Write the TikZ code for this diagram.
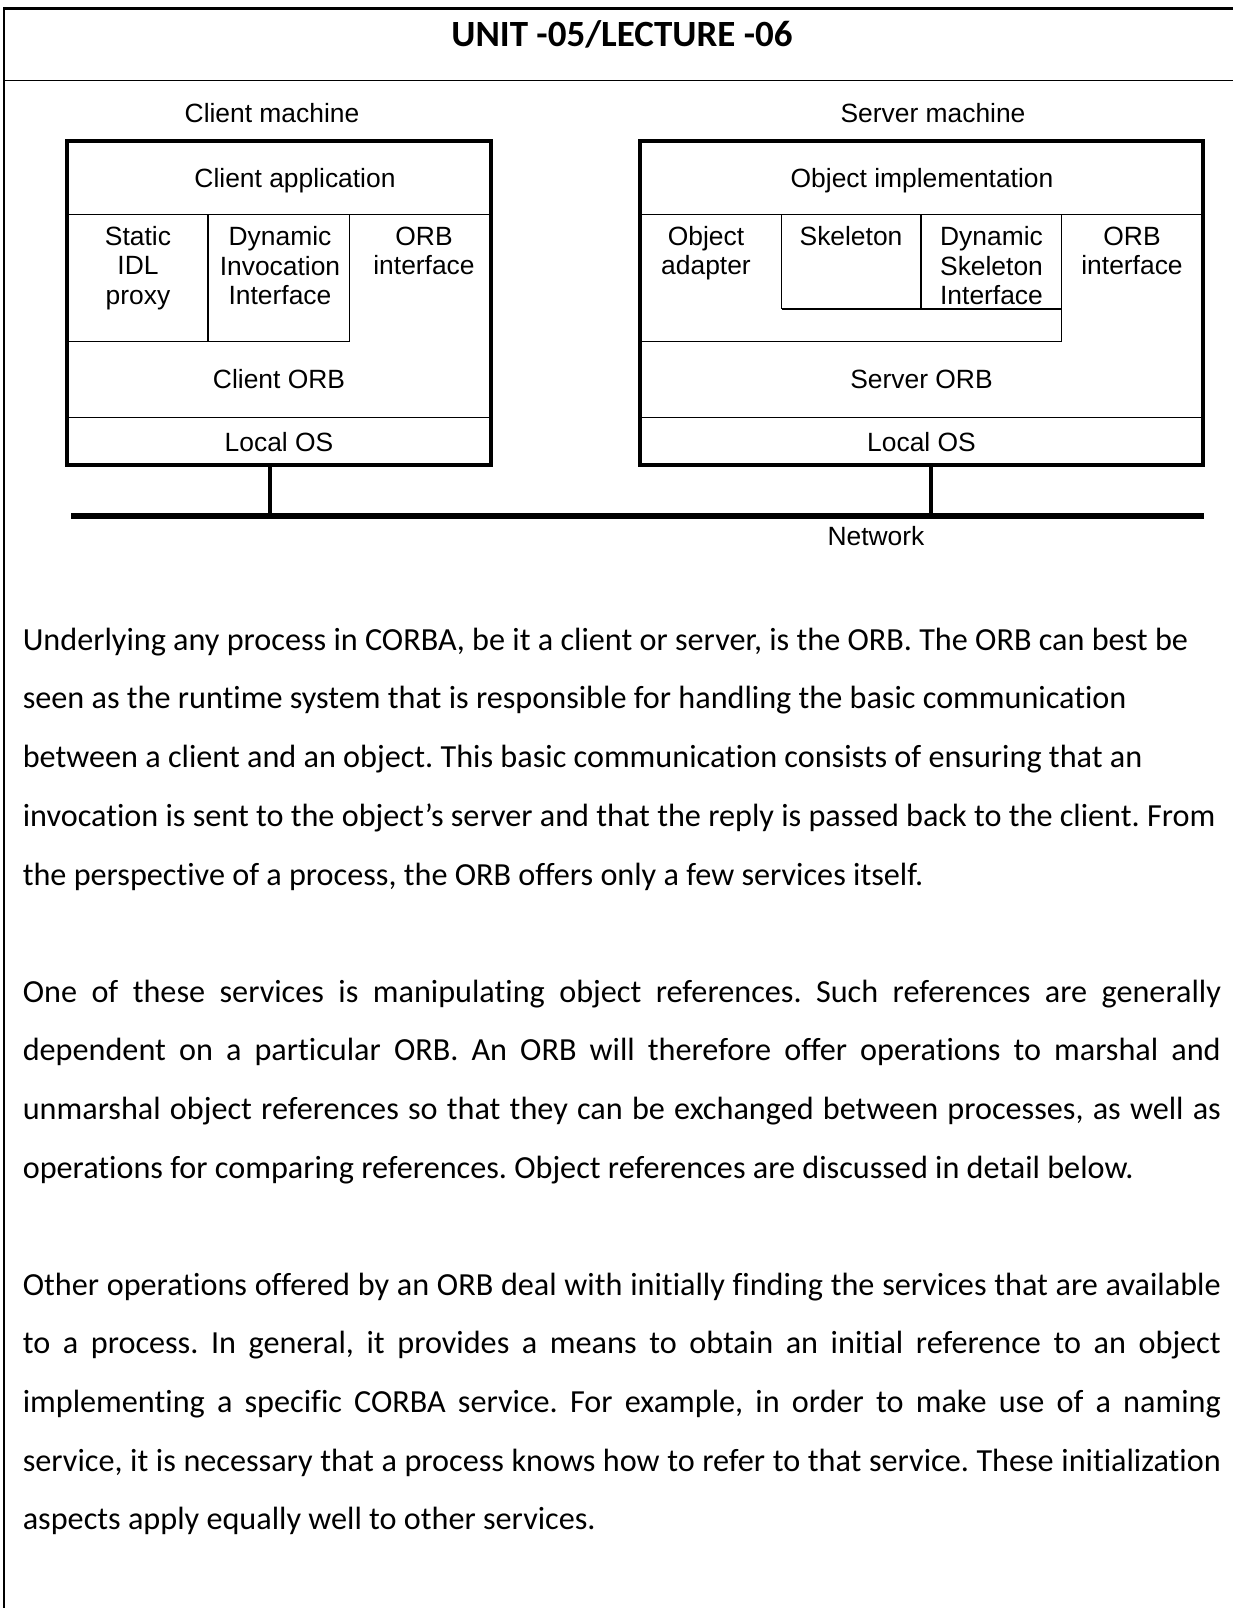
\documentclass[tikz,border=0pt]{standalone}
\usepackage{fontspec}
\newfontfamily\bodyfam[Ligatures={NoCommon}]{Carlito}
\newfontfamily\diagfam{Liberation Sans}
\begin{document}
\frenchspacing
\begin{tikzpicture}[x=1pt,y=-1pt,
  body/.style={font={\bodyfam\fontsize{32.2}{38}\selectfont}, anchor=mid west, inner sep=0pt},
  titlestyle/.style={font={\bodyfam\bfseries\fontsize{37}{44}\selectfont}, inner sep=0pt},
  lbl/.style={font={\diagfam\fontsize{26.4}{29.5}\selectfont}, inner sep=0pt, align=center},
  thickbox/.style={line width=4.5pt},
  thinline/.style={line width=1.5pt},
  frameline/.style={line width=2.5pt},
  netline/.style={line width=6.5pt},
  conn/.style={line width=4pt}]
\useasboundingbox[fill=white] (0,0) rectangle (1233,1608);
% page frame
\draw[frameline] (4,1608) -- (4,8.5) -- (1233,8.5);
\draw[thinline] (4,80.5) -- (1233,80.5);
\node[titlestyle] (title) at (622,34) {UNIT -05/LECTURE -06};

% ---------- client machine ----------
\node[lbl] (cm) at (272,113) {Client machine};
\draw[thinline] (67,214.5) -- (491,214.5);
\draw[thinline] (208,214.5) -- (208,341.7);
\draw[thinline] (349.5,214.5) -- (349.5,341.7);
\draw[thinline] (67,341.7) -- (349.5,341.7);
\draw[thinline] (67,417.5) -- (491,417.5);
\draw[thickbox] (67,141) rectangle (491,465);
\node[lbl] (capp) at (295,180.5) {Client application};
\node[lbl] (sidl) at (138,268) {Static\\IDL\\proxy};
\node[lbl] (dii) at (280,266) {Dynamic\\Invocation\\Interface};
\node[lbl] (corbi) at (424,251) {ORB\\interface};
\node[lbl] (corb) at (279,379) {Client ORB};
\node[lbl] (cos) at (279,441.7) {Local OS};

% ---------- server machine ----------
\node[lbl] (sm) at (933,113) {Server machine};
\draw[thinline] (640,214.5) -- (1203,214.5);
\draw[thinline] (781.7,214.5) -- (781.7,308.8);
\draw[thinline] (921.2,214.5) -- (921.2,308.8);
\draw[thinline] (1061.7,214.5) -- (1061.7,341.6);
\draw[thinline] (781.7,308.8) -- (1061.7,308.8);
\draw[thinline] (640,341.6) -- (1061.7,341.6);
\draw[thinline] (640,417.5) -- (1203,417.5);
\draw[thickbox] (640,141) rectangle (1203,465);
\node[lbl] (oimpl) at (922,180.5) {Object implementation};
\node[lbl] (oad) at (706,253) {Object\\adapter};
\node[lbl] (skel) at (851,235.7) {Skeleton};
\node[lbl] (dsi) at (991.5,266) {Dynamic\\Skeleton\\Interface};
\node[lbl] (sorbi) at (1132,251) {ORB\\interface};
\node[lbl] (sorb) at (921.5,379) {Server ORB};
\node[lbl] (sos) at (921.5,441.7) {Local OS};

% ---------- network ----------
\coordinate (netL) at (71,516);
\coordinate (netR) at (1203.5,516);
\coordinate (cbot) at (270,465);
\coordinate (sbot) at (931,465);
\draw[netline] (netL) -- (netR);
\draw[conn] (cbot) -- (cbot |- netL);
\draw[conn] (sbot) -- (sbot |- netL);
\node[lbl] (net) at (876,536.5) {Network};

% ---------- body text ----------
\node[body] (l1) at (22.6,648.3) {Underlying any process in CORBA, be it a client or server, is the ORB. The ORB can best be};
\node[body] (l2) at (22.6,706.8) {seen as the runtime system that is responsible for handling the basic communication};
\node[body] (l3) at (22.6,765.3) {between a client and an object. This basic communication consists of ensuring that an};
\node[body] (l4) at (22.6,824.7) {invocation is sent to the object’s server and that the reply is passed back to the client. From};
\node[body] (l5) at (22.6,883.2) {the perspective of a process, the ORB offers only a few services itself.};

\node[body] (m1) at (22.6,1000.1) {\makebox[1198pt][s]{One of these services is manipulating object references. Such references are generally}};
\node[body] (m2) at (22.6,1058.6) {\makebox[1198pt][s]{dependent on a particular ORB. An ORB will therefore offer operations to marshal and}};
\node[body] (m3) at (22.6,1117.1) {\makebox[1198pt][s]{unmarshal object references so that they can be exchanged between processes, as well as}};
\node[body] (m4) at (22.6,1176.6) {operations for comparing references. Object references are discussed in detail below.};

\node[body] (n1) at (22.6,1293.5) {\makebox[1198pt][s]{Other operations offered by an ORB deal with initially finding the services that are available}};
\node[body] (n2) at (22.6,1351.8) {\makebox[1198pt][s]{to a process. In general, it provides a means to obtain an initial reference to an object}};
\node[body] (n3) at (22.6,1410.4) {\makebox[1198pt][s]{implementing a specific CORBA service. For example, in order to make use of a naming}};
\node[body] (n4) at (22.6,1468.9) {\makebox[1198pt][s]{service, it is necessary that a process knows how to refer to that service. These initialization}};
\node[body] (n5) at (22.6,1527.4) {aspects apply equally well to other services.};
\end{tikzpicture}
\end{document}
